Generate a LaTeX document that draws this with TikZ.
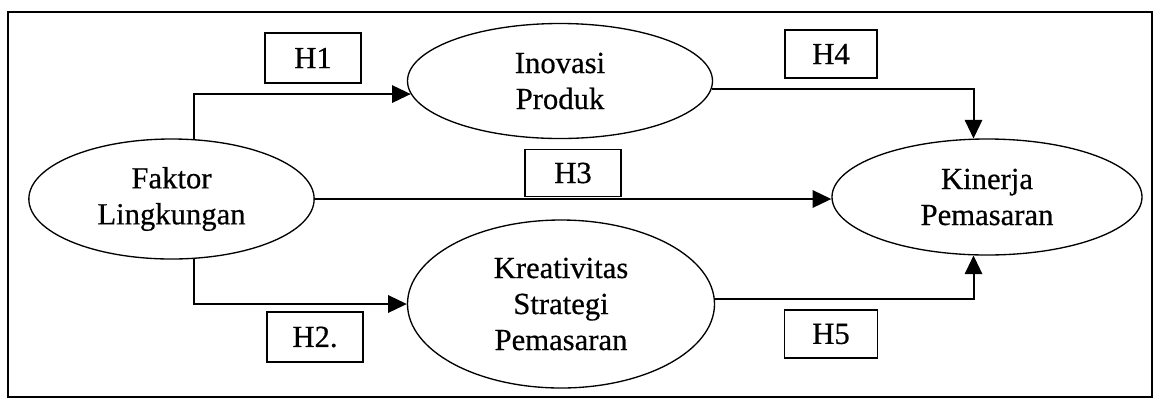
\documentclass[tikz,border=0pt]{standalone}
\usepackage{fontspec}
\setmainfont{Liberation Serif}[FakeBold=0.5]
\newfontfamily\lblfont{Liberation Serif}[FakeBold=0.5]
\usetikzlibrary{shapes.geometric,arrows.meta}
\begin{document}
\begin{tikzpicture}[x=0.75pt,y=-0.75pt,
  var/.style={draw,ellipse,line width=1pt,inner sep=0pt,align=center,
    font=\fontsize{23pt}{27pt}\selectfont},
  hbox/.style={draw,rectangle,line width=1.3pt,inner sep=0pt,
    minimum width=72pt,minimum height=37pt,font=\lblfont\fontsize{23pt}{26pt}\selectfont},
  conn/.style={line width=1.5pt,-{Triangle[length=14pt,width=13pt]}}]
\useasboundingbox (0,0) rectangle (1156,401);
\draw[line width=1.5pt] (8,12) rectangle (1152,397);
\node[var,minimum width=214pt,minimum height=90pt] (F) at (171.5,199) {Faktor\\Lingkungan};
\node[var,minimum width=228.75pt,minimum height=86.25pt] (I) at (560,81) {Inovasi\\Produk};
\node[var,minimum width=230.25pt,minimum height=126pt] (S) at (561,304) {Kreativitas\\Strategi\\Pemasaran};
\node[var,minimum width=232.5pt,minimum height=87pt] (K) at (987,197) {Kinerja\\Pemasaran};
\node[hbox] (h1) at (313,58) {H1};
\node[hbox,minimum width=69pt,minimum height=36pt] (h4) at (831,54) {H4};
\node[hbox,minimum height=35.25pt] (h3) at (573,173) {H3};
\node[hbox] (h2) at (315,337) {H2.};
\node[hbox,minimum width=69.75pt,minimum height=36pt] (h5) at (831,334) {H5};
\draw[conn] (F.69) |- (I.185);
\draw[conn] (F.-69) |- (S.west);
\draw[conn] (F.east) -- (F.east -| K.west);
\draw[conn] (I.-3) -| (K.103);
\draw[conn] (S.2) -| (K.-103);
\end{tikzpicture}
\end{document}
